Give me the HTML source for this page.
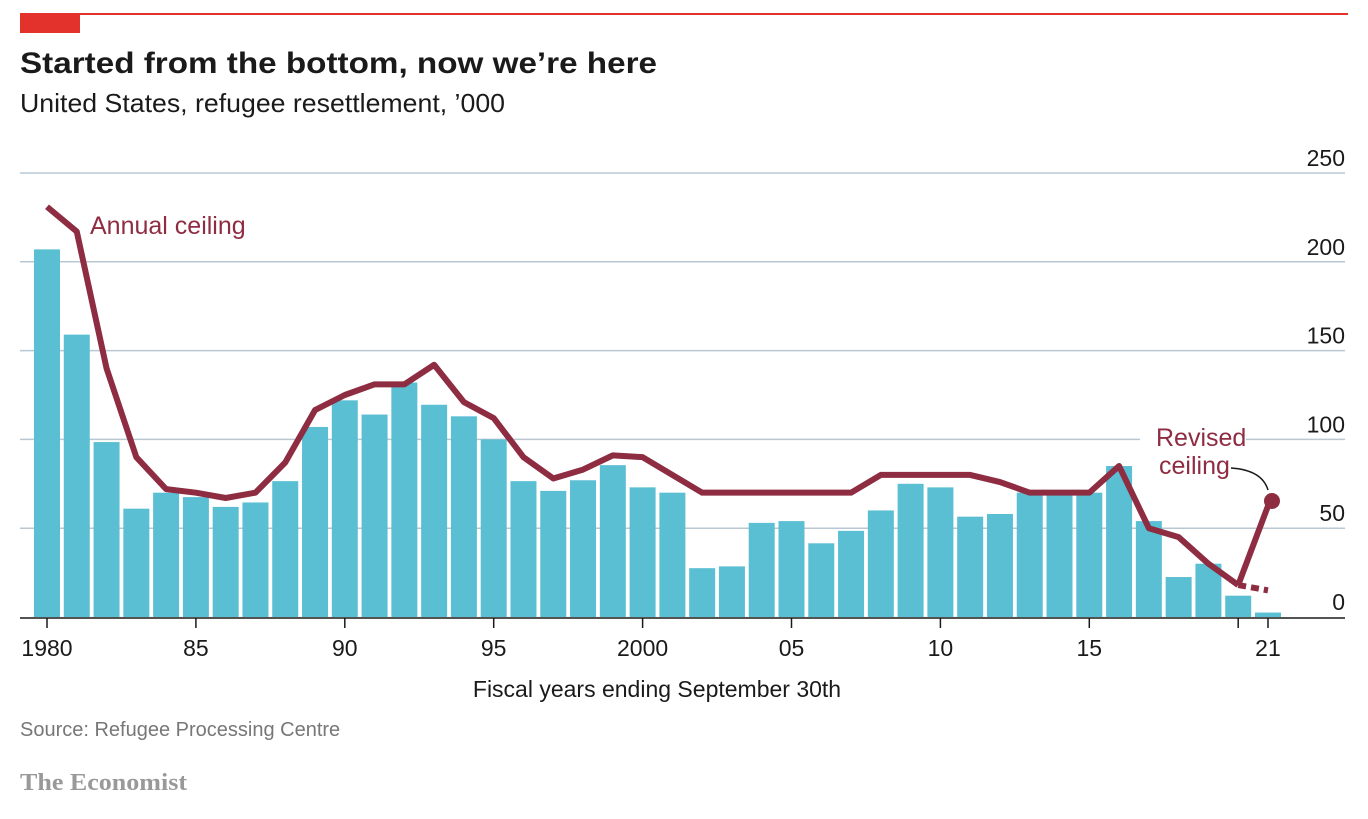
<!DOCTYPE html>
<html><head><meta charset="utf-8"><style>
body{margin:0;background:#fff;width:1368px;height:814px;overflow:hidden;font-family:"Liberation Sans",sans-serif}
</style></head><body>
<svg width="1368" height="814" viewBox="0 0 1368 814">
<rect x="20" y="13" width="1328" height="2" fill="#e3322b"/>
<rect x="20" y="13" width="60" height="20" fill="#e3322b"/>
<text x="20" y="73" font-size="30" font-weight="bold" fill="#1a1a1a" textLength="637" lengthAdjust="spacingAndGlyphs">Started from the bottom, now we’re here</text>
<text x="20" y="112" font-size="26" fill="#1a1a1a" textLength="485" lengthAdjust="spacingAndGlyphs">United States, refugee resettlement, ’000</text>
<g id="grid"></g><g id="bars"></g><g id="lines"></g><g id="xaxis"></g>
<text x="657" y="697" font-size="23" text-anchor="middle" fill="#1a1a1a">Fiscal years ending September 30th</text>
<text x="20" y="736" font-size="20" fill="#777">Source: Refugee Processing Centre</text>
<text x="20" y="790" font-size="24" font-weight="bold" fill="#999" font-family="Liberation Serif,serif" textLength="167" lengthAdjust="spacingAndGlyphs">The Economist</text>
</svg>
<script>
const years=[];for(let y=1980;y<=2021;y++)years.push(y);
const admitted=[207,159,98.5,61,70,67.5,62,64.5,76.5,107,122,114,132,119.5,113,100,76.5,71,77,85.5,73,70,27.5,28.5,53,54,41.5,48.5,60,75,73,56.5,58,70,70,70,85,54,22.5,30,12,2.5];
const ceiling=[231,217,140,90,72,70,67,70,87,116.5,125,131,131,142,121,112,90,78,83,91,90,80,70,70,70,70,70,70,80,80,80,80,76,70,70,70,85,50,45,30,18];
const ceiling2021=15, revised2021=62.5;
const yTicks=[0,50,100,150,200,250];
const xTickYears=[1980,1985,1990,1995,2000,2005,2010,2015,2020,2021];
const xTickLabels=["1980","85","90","95","2000","05","10","15","","21"];
const NS="http://www.w3.org/2000/svg";
const X=y=>47+(y-1980)*29.78, Y=v=>617-v*1.776;
function mk(t,a,p){const e=document.createElementNS(NS,t);for(const k in a)e.setAttribute(k,a[k]);document.getElementById(p).appendChild(e);return e;}
yTicks.forEach(v=>{
 if(v>0){const l=mk('line',{x1:20,x2:1345,y1:Y(v),y2:Y(v),stroke:'#b9c7d3','stroke-width':1.5},'grid');
 
 }
 const t=mk('text',{x:1345,y:Y(v)-7,'font-size':23,'text-anchor':'end',fill:'#1a1a1a'},'grid');t.textContent=v;
 
 
});
const m=mk('rect',{x:1140,y:420,width:106,height:65,fill:'#fff'},'grid');


years.forEach((y,i)=>{
 const b=mk('rect',{x:X(y)-13,y:Y(admitted[i]),width:26,height:admitted[i]*1.776,fill:'#5bbfd3'},'bars');
 
 
});
const pts=ceiling.map((v,i)=>X(years[i])+','+Y(v)).join(' ');
const pl=mk('polyline',{points:pts,fill:'none',stroke:'#8e2c42','stroke-width':6,'stroke-linejoin':'round'},'lines');


const d=mk('line',{x1:X(2020),y1:Y(ceiling[40]),x2:X(2021),y2:Y(ceiling2021),stroke:'#8e2c42','stroke-width':6,'stroke-dasharray':'8 5'},'lines');


const r=mk('line',{x1:X(2020),y1:Y(ceiling[40]),x2:X(2021),y2:Y(revised2021),stroke:'#8e2c42','stroke-width':6},'lines');


const c=mk('circle',{cx:X(2021)+4,cy:Y(revised2021)-5,r:8,fill:'#8e2c42'},'lines');


const cv=mk('path',{d:`M1231 468 Q1262 470 1268 ${Y(revised2021)-16}`,fill:'none',stroke:'#1a1a1a','stroke-width':1.5},'lines');


[['Annual ceiling',90,234],['Revised',1156,446],['ceiling',1159,474]].forEach(a=>{
 const t=mk('text',{x:a[1],y:a[2],'font-size':25,fill:'#8e2c42'},'lines');t.textContent=a[0];
 
 
});
const ax=mk('line',{x1:20,x2:1345,y1:618,y2:618,stroke:'#1a1a1a','stroke-width':1.5},'xaxis');


xTickYears.forEach((y,i)=>{
 const tk=mk('line',{x1:X(y),x2:X(y),y1:618,y2:628,stroke:'#1a1a1a','stroke-width':1.5},'xaxis');
 
 
 const t=mk('text',{x:X(y),y:656,'font-size':23,'text-anchor':'middle',fill:'#1a1a1a'},'xaxis');t.textContent=xTickLabels[i];
 
 
});
</script>
</body></html>
